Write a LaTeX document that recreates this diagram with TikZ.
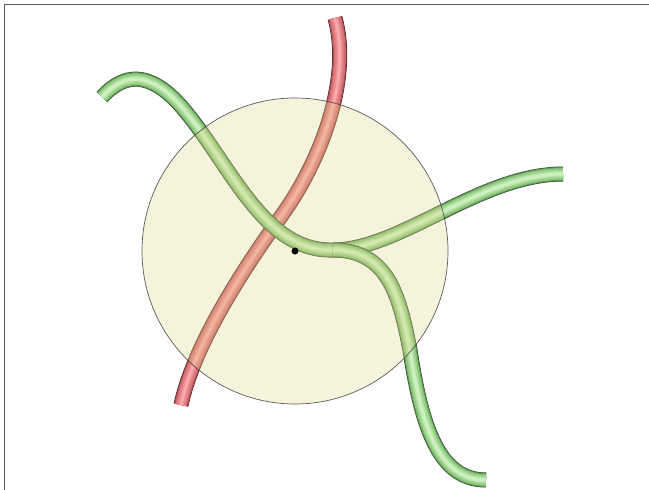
\documentclass[tikz,border=0pt]{standalone}
\usetikzlibrary{calc}

\definecolor{gedge}{RGB}{40,70,35}
\definecolor{gmid}{RGB}{135,195,120}
\definecolor{glight}{RGB}{180,228,165}
\definecolor{gcore}{RGB}{205,240,190}
\definecolor{redge}{RGB}{80,30,30}
\definecolor{rmid}{RGB}{210,110,115}
\definecolor{rlight}{RGB}{238,140,145}
\definecolor{rcore}{RGB}{248,168,168}
\definecolor{discfill}{RGB}{225,214,138}
\definecolor{framegray}{RGB}{95,95,95}

\begin{document}
\begin{tikzpicture}[
    x=1pt, y=-1pt,
    greentube/.style={line width=3pt, draw=gcore,
        preaction={draw=gedge, line width=15pt},
        preaction={draw=gedge!45!gmid, line width=14pt},
        preaction={draw=gmid, line width=12pt},
        preaction={draw=gmid!50!glight, line width=9pt},
        preaction={draw=glight, line width=6pt}},
    redtube/.style={line width=3pt, draw=rcore,
        preaction={draw=redge, line width=15pt},
        preaction={draw=redge!45!rmid, line width=14pt},
        preaction={draw=rmid, line width=12pt},
        preaction={draw=rmid!50!rlight, line width=9pt},
        preaction={draw=rlight, line width=6pt}},
    disc/.style={circle, draw=black!75, fill=discfill, fill opacity=0.3, draw opacity=0.85, line width=0.7pt, minimum size=306pt, inner sep=0pt},
    centre/.style={circle, fill=black, minimum size=7pt, inner sep=0pt}
]
\useasboundingbox (0,0) rectangle (649,490);

% frame
\draw[framegray, line width=1.3pt] (4.5,490) -- (4.5,4.5) -- (649,4.5);

% end points
\coordinate (redlow) at (181,405);
\coordinate (redtop) at (335,18);
\coordinate (leftend) at (102,97);
\coordinate (junction) at (333,250);
\coordinate (rightend) at (563,174);
\coordinate (lowend) at (486,480);

% tubes
\draw[redtube] (redlow) .. controls (195,340) and (250,260) .. (282,215)
    .. controls (320,162) and (352,80) .. (redtop);
\draw[greentube] (leftend) .. controls (125,72) and (150,72) .. (180,105)
    .. controls (230,162) and (262,252) .. (junction);
\draw[greentube] (junction) .. controls (400,250) and (480,174) .. (rightend);
\draw[greentube] (junction) .. controls (390,250) and (400,300) .. (410,350)
    .. controls (422,430) and (440,480) .. (lowend);

% disc and centre
\node[disc] (region) at (295,251) {};
\node[centre] (origin) at (295,251) {};

\end{tikzpicture}
\end{document}
